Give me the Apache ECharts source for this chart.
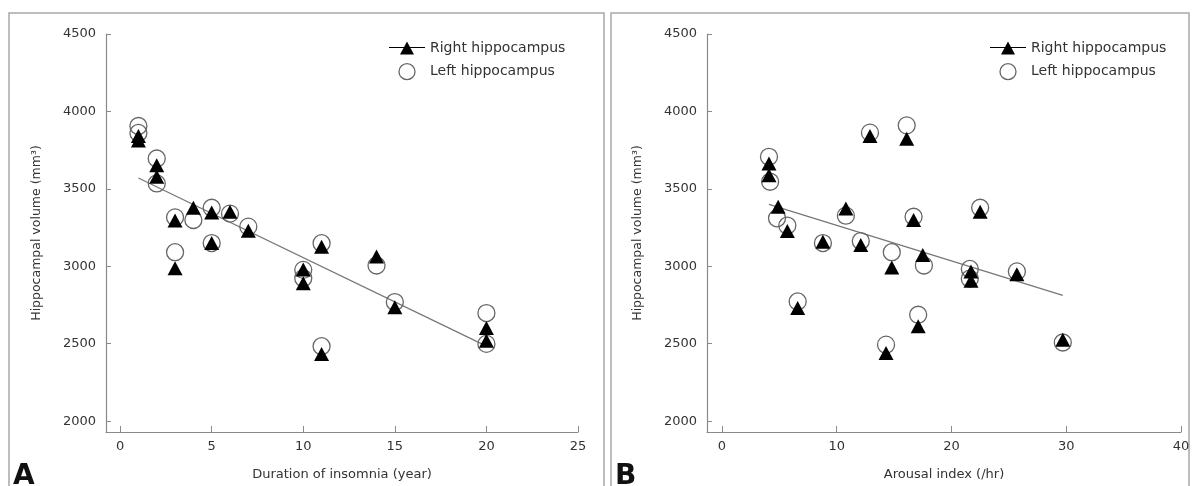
<!DOCTYPE html>
<html>
<head>
<meta charset="utf-8">
<script src="https://cdn.jsdelivr.net/npm/echarts@6/dist/echarts.min.js"></script>
<style>
html,body{margin:0;padding:0;background:#fff;}
#chart{width:1195px;height:486px;}
</style>
</head>
<body>
<div id="chart"></div>
<script>
// ---- data ----
const yTicks = [2000, 2500, 3000, 3500, 4000, 4500];
const xTicksA = [0, 5, 10, 15, 20, 25];
const xTicksB = [0, 10, 20, 30, 40];

const rightA = [[1,3842],[1,3813],[2,3652],[2,3578],[3,3295],[3,2988],[4,3378],[5,3348],[5,3150],[6,3353],[7,3230],[10,2980],[10,2891],[11,3127],[11,2434],[14,3063],[15,2735],[20,2602],[20,2520]];
const leftA = [[1,3906],[1,3861],[2,3696],[2,3535],[3,3316],[3,3091],[4,3299],[5,3378],[5,3150],[6,3340],[7,3256],[10,2977],[10,2923],[11,3149],[11,2484],[14,3005],[15,2769],[20,2698],[20,2499]];
const fitA = [[1,3570],[20,2485]];

const rightB = [[4.1,3663],[4.1,3588],[4.9,3385],[5.7,3228],[6.6,2730],[8.8,3158],[10.8,3374],[12.1,3138],[12.9,3842],[14.3,2440],[14.8,2992],[16.1,3824],[16.7,3299],[17.1,2613],[17.5,3073],[21.7,2967],[21.7,2906],[22.5,3353],[25.7,2949],[29.7,2526]];
const leftB = [[4.1,3707],[4.2,3546],[4.8,3310],[5.7,3263],[6.6,2773],[8.8,3150],[10.8,3327],[12.1,3163],[12.9,3863],[14.3,2494],[14.8,3091],[16.1,3910],[16.7,3320],[17.1,2687],[17.6,3005],[21.6,2983],[21.6,2920],[22.5,3378],[25.7,2967],[29.7,2508]];
const fitB = [[4.1,3400],[29.7,2812]];

const xNameA = 'Duration of insomnia (year)';
const xNameB = 'Arousal index (/hr)';
const yName = 'Hippocampal volume (mm³)';
const nameR = 'Right hippocampus';
const nameL = 'Left hippocampus';

// ---- styles ----
const FONT = 'DejaVu Sans';
const axisCol = '#8a8a8a';
const txtCol = '#333';
const triIcon = 'path://M0,7.5H36V8.5H0Z M11,15L18,2L25,15Z';

function xAxis(idx, min, max, ticks, name) {
  return {
    type: 'value', gridIndex: idx, min: min, max: max,
    name: name, nameLocation: 'middle', nameGap: 36,
    nameTextStyle: {fontFamily: FONT, fontSize: 13, color: txtCol},
    axisLine: {onZero: false, lineStyle: {color: axisCol, width: 1.2}},
    axisTick: {inside: true, length: 6, customValues: ticks, lineStyle: {color: axisCol}},
    axisLabel: {customValues: ticks, margin: 8, fontFamily: FONT, fontSize: 13, color: txtCol, formatter: v => String(v)},
    splitLine: {show: false}
  };
}
function yAxis(idx) {
  return {
    type: 'value', gridIndex: idx, min: 1930, max: 4500,
    name: yName, nameLocation: 'middle', nameGap: 63,
    nameTextStyle: {fontFamily: FONT, fontSize: 12.5, color: txtCol},
    axisLine: {onZero: false, lineStyle: {color: axisCol, width: 1.2}},
    axisTick: {inside: true, length: 5, customValues: yTicks, lineStyle: {color: axisCol}},
    axisLabel: {customValues: yTicks, margin: 10, fontFamily: FONT, fontSize: 13, color: txtCol, formatter: v => String(v)},
    splitLine: {show: false}
  };
}
function circles(idx, data) {
  return {
    name: nameL, type: 'scatter', xAxisIndex: idx, yAxisIndex: idx, data: data,
    symbol: 'circle', symbolSize: 17, z: 3,
    itemStyle: {color: 'rgba(255,255,255,0)', borderColor: '#666', borderWidth: 1.3, opacity: 1}
  };
}
function triangles(idx, data) {
  return {
    name: nameR, type: 'scatter', xAxisIndex: idx, yAxisIndex: idx, data: data,
    symbol: 'triangle', symbolSize: [15, 14], z: 4,
    itemStyle: {color: '#000', opacity: 1}
  };
}
function fit(idx, data) {
  return {
    type: 'line', xAxisIndex: idx, yAxisIndex: idx, data: data,
    symbol: 'none', z: 2, silent: true,
    lineStyle: {color: '#777', width: 1.3}
  };
}
function legend(left) {
  return {
    left: left, top: 36, orient: 'vertical', itemWidth: 36, itemHeight: 16, itemGap: 8,
    textStyle: {fontFamily: FONT, fontSize: 14, color: txtCol},
    data: [
      {name: nameR, icon: triIcon, itemStyle: {color: '#000', opacity: 1}},
      {name: nameL, icon: 'circle', itemStyle: {color: 'rgba(255,255,255,0)', borderColor: '#666', borderWidth: 1.3, opacity: 1}}
    ]
  };
}

const chart = echarts.init(document.getElementById('chart'));
chart.setOption({
  backgroundColor: '#fff',
  animation: false,
  grid: [
    {left: 106, top: 34, width: 472, height: 399},
    {left: 707, top: 34, width: 474, height: 399}
  ],
  xAxis: [xAxis(0, -0.77, 25, xTicksA, xNameA), xAxis(1, -1.3, 40, xTicksB, xNameB)],
  yAxis: [yAxis(0), yAxis(1)],
  legend: [legend(384), legend(985)],
  series: [
    fit(0, fitA), circles(0, leftA), triangles(0, rightA),
    fit(1, fitB), circles(1, leftB), triangles(1, rightB)
  ],
  graphic: [
    {type: 'rect', shape: {x: 9, y: 13, width: 595, height: 500}, style: {fill: 'none', stroke: '#a8a8a8', lineWidth: 1.5}, silent: true},
    {type: 'rect', shape: {x: 611, y: 13, width: 578, height: 500}, style: {fill: 'none', stroke: '#a8a8a8', lineWidth: 1.5}, silent: true},
    {type: 'text', left: 13, top: 463, style: {text: 'A', font: 'bold 28px "DejaVu Sans"', fill: '#111'}},
    {type: 'text', left: 615, top: 463, style: {text: 'B', font: 'bold 28px "DejaVu Sans"', fill: '#111'}}
  ]
});
</script>
</body>
</html>
